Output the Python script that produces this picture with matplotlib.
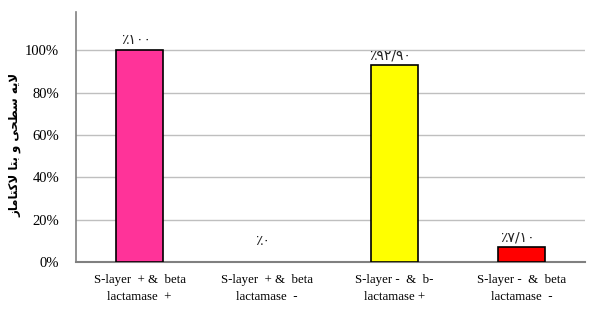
import matplotlib
matplotlib.use("Agg")
import matplotlib.pyplot as plt
from matplotlib.ticker import PercentFormatter

categories = ["S-layer  + &  beta\nlactamase  +",
              "S-layer  + &  beta\nlactamase  -",
              "S-layer -  &  b-\nlactamase +",
              "S-layer -  &  beta\nlactamase  -"]
values = [1.00, 0.0, 0.929, 0.071]
value_labels = ["٪۱۰۰", "٪۰", "٪۹۲/۹۰", "٪۷/۱۰"]
colors = ["#FF3399", "#FFFFFF", "#FFFF00", "#FF0000"]
yticks = [0, 0.2, 0.4, 0.6, 0.8, 1.0]

# Persian y label in presentation forms, visual (left-to-right) order
logical = "\uFEFB\uFEF3\uFEEA \uFEB3\uFEC4\uFEA4\uFEF0 \uFEED \uFE91\uFE98\uFE8E \uFEFB\uFB90\uFE98\uFE8E\uFEE3\uFE8E\uFEAF"
ylabel = logical[::-1]

fig = plt.figure(figsize=(5.99, 3.10), dpi=100)
ax = fig.add_axes([76/599, 48/310, 509/599, 250/310])

x = range(len(categories))
for i, (v, c) in enumerate(zip(values, colors)):
    if v > 0:
        ax.bar(i, v, width=0.37, color=c, edgecolor="black", linewidth=1.2, zorder=3)
for i, (v, t) in enumerate(zip(values, value_labels)):
    off = 2 if v > 0 else 10
    ax.annotate(t, (i - 0.03, v), xytext=(0, off), textcoords="offset points",
                ha="center", va="bottom", fontsize=10, family="DejaVu Sans", color="#222222")

ax.set_yticks(yticks)
ax.set_xlim(-0.5, 3.5)
ax.set_ylim(0, 1.18)
ax.yaxis.set_major_formatter(PercentFormatter(1.0, decimals=0))
ax.set_xticks(list(x))
ax.set_xticklabels(categories, fontsize=9.3, family="Liberation Serif", linespacing=1.55)
for lab in ax.get_yticklabels():
    lab.set_family("Liberation Serif")
    lab.set_fontsize(10.5)
ax.tick_params(axis="x", length=0, pad=9)
ax.tick_params(axis="y", length=0, pad=12)
ax.grid(axis="y", color="#BFBFBF", linewidth=1, zorder=0)
for s in ["top", "right"]:
    ax.spines[s].set_visible(False)
ax.spines["left"].set_color("#808080")
ax.spines["bottom"].set_color("#808080")
ax.spines["bottom"].set_linewidth(1.5)
ax.spines["left"].set_linewidth(1.2)
ax.set_ylabel(ylabel, family="DejaVu Sans", fontsize=8.5, fontweight="bold")
ax.yaxis.set_label_coords(-0.108, 0.47)

fig.savefig("out.png", dpi=100)
